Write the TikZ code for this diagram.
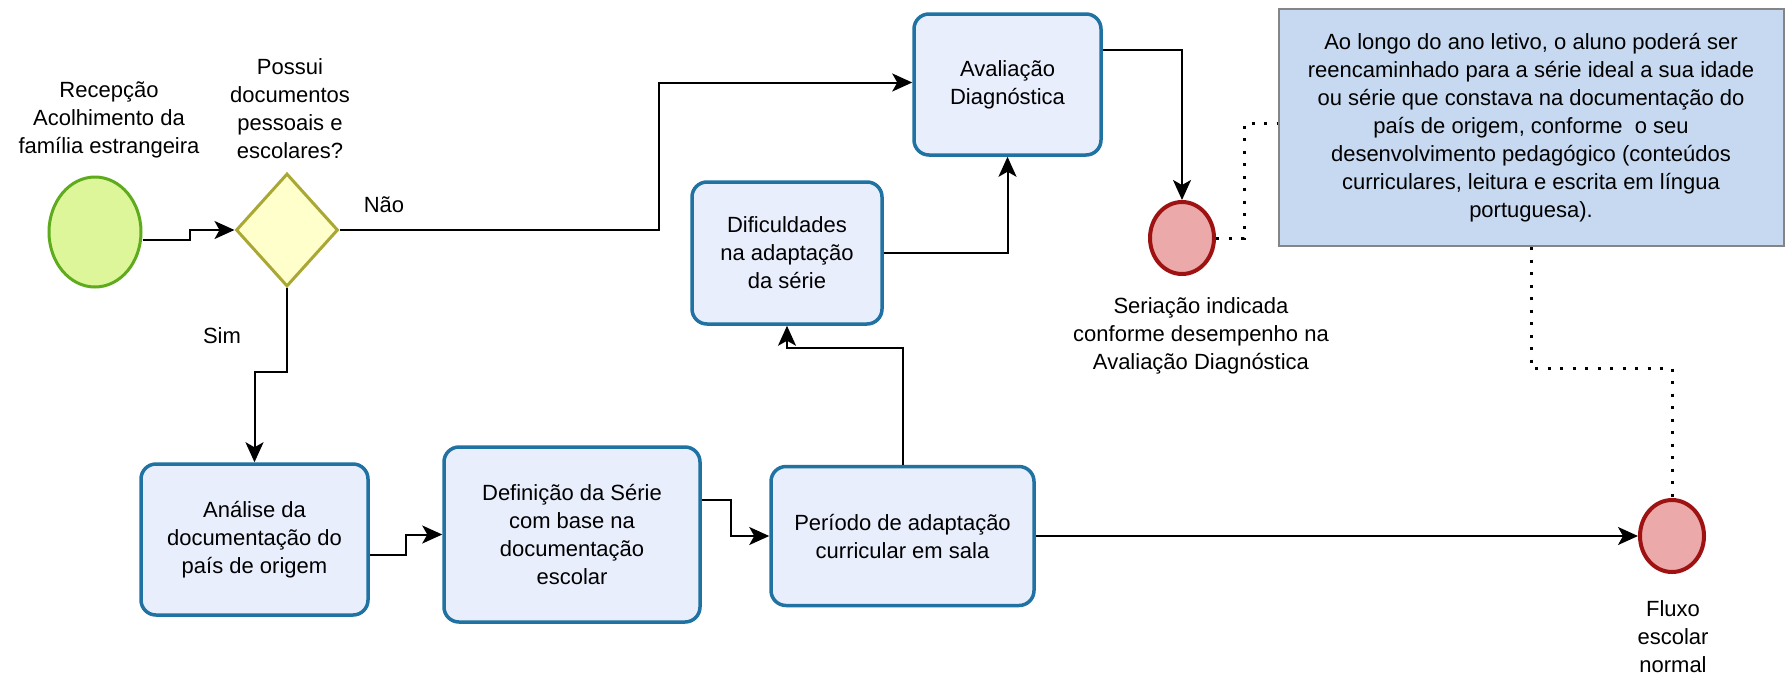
\documentclass[tikz,border=0pt]{standalone}
\usepackage{fontspec}
\setmainfont{Liberation Sans}
\usetikzlibrary{shapes.geometric,arrows.meta}
\definecolor{boxfill}{HTML}{E9EEFC}
\definecolor{boxline}{HTML}{1F72A2}
\definecolor{notefill}{HTML}{C6D9F1}
\definecolor{noteline}{HTML}{858585}
\definecolor{startfill}{HTML}{DDF69A}
\definecolor{startline}{HTML}{5FAB1E}
\definecolor{gatefill}{HTML}{FFFFCC}
\definecolor{gateline}{HTML}{A9A834}
\definecolor{endfill}{HTML}{EBA9A9}
\definecolor{endline}{HTML}{9E1212}
\begin{document}
\begin{tikzpicture}[x=1pt,y=-1pt,
  txt/.style={font=\fontsize{22}{28}\selectfont, align=center, text=black},
  task/.style={txt, draw=boxline, fill=boxfill, line width=3.5pt, rounded corners=15pt, inner sep=4pt},
  startev/.style={ellipse, draw=startline, fill=startfill, line width=3pt, minimum width=92pt, minimum height=110pt, inner sep=0pt},
  gate/.style={diamond, draw=gateline, fill=gatefill, line width=3pt, minimum width=102pt, minimum height=113pt, inner sep=0pt},
  endev/.style={ellipse, draw=endline, fill=endfill, line width=4pt, minimum width=64pt, minimum height=72pt, inner sep=0pt},
  notebox/.style={txt, draw=noteline, fill=notefill, line width=2pt, inner sep=0pt},
  lbl/.style={txt},
  arr/.style={line width=2pt, -{Stealth[length=20pt,width=18pt,inset=5pt]}},
  assoc/.style={line width=3pt, dash pattern=on 3pt off 9.5pt}
]
\useasboundingbox (0,0) rectangle (1785,675);
\fill[white] (0,0) rectangle (1785,675);

% events and gateway
\node[startev] (start) at (95,232) {};
\node[gate] (dec) at (287,230) {};
\node[endev] (ser) at (1182,238) {};
\node[endev] (fim) at (1672,536) {};

% tasks
\node[task, minimum width=227pt, minimum height=151pt] (box1) at (254.5,539.5) {Análise da\\documentação do\\país de origem};
\node[task, minimum width=256pt, minimum height=175pt] (box2) at (572,534.5) {Definição da Série\\com base na\\documentação\\escolar};
\node[task, minimum width=263pt, minimum height=139pt] (box3) at (902.5,536) {Período de adaptação\\curricular em sala};
\node[task, minimum width=190pt, minimum height=142pt] (dific) at (787,253) {Dificuldades\\na adaptação\\da série};
\node[task, minimum width=187pt, minimum height=141pt] (aval) at (1007.5,84.5) {Avaliação\\Diagnóstica};

% annotation
\node[notebox, minimum width=505pt, minimum height=237pt] (note) at (1531,127.5) {Ao longo do ano letivo, o aluno poderá ser\\reencaminhado para a série ideal a sua idade\\ou série que constava na documentação do\\país de origem, conforme\ \ o seu\\desenvolvimento pedagógico (conteúdos\\curriculares, leitura e escrita em língua\\portuguesa).};

% labels
\node[lbl] (startlbl) at (109,120) {Recepção\\Acolhimento da\\família estrangeira};
\node[lbl] (declbl) at (290,109) {Possui\\documentos\\pessoais e\\escolares?};
\node[lbl] (serlbl) at (1201,336) {Seriação indicada\\conforme desempenho na\\Avaliação Diagnóstica};
\node[lbl] (fimlbl) at (1673,637) {Fluxo\\escolar\\normal};
\node[lbl] (nao) at (384,205) {Não};
\node[lbl] (sim) at (222,336) {Sim};

% sequence flows
\draw[arr] ([yshift=-8pt]start.east) -- ++(47,0) |- (dec.west);
\draw[arr] (dec.east) -- ++(319,0) |- ([yshift=2pt]aval.west);
\draw[arr] (dec.south) -- ++(0,84) -| (box1.north);
\draw[arr] ([yshift=-15pt]box1.east) -- ++(36,0) |- (box2.west);
\draw[arr] ([yshift=35pt]box2.east) -- ++(29,0) |- (box3.west);
\draw[arr] (box3.east) -- (fim.west);
\draw[arr] (box3.north) -- ++(0,-117) -| (dific.south);
\draw[arr] (dific.east) -| (aval.south);
\draw[arr] ([yshift=35pt]aval.east) -| (ser.north);

% associations
\draw[assoc] (ser.east) -- ++(28,0) |- ([yshift=4pt]note.west);
\draw[assoc] (note.south) -- ++(0,121) -| (fim.north);
\end{tikzpicture}
\end{document}
